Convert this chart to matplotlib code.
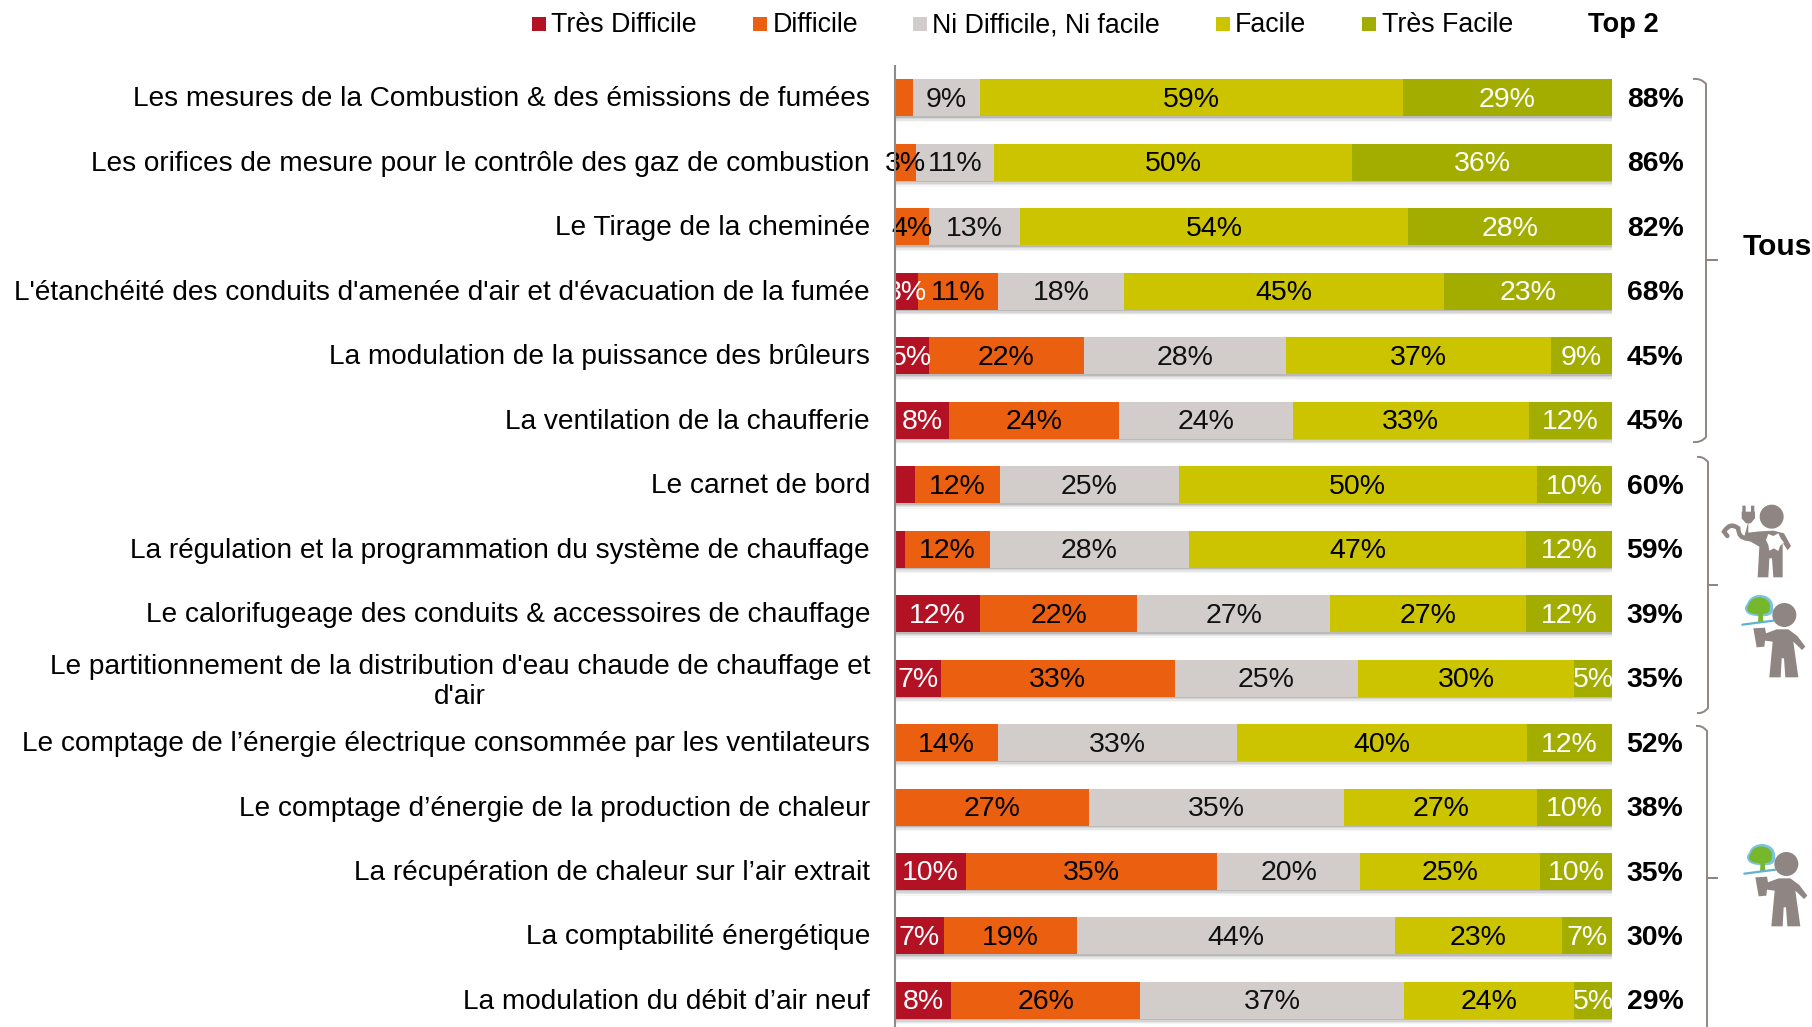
import numpy as np
import matplotlib
matplotlib.use('Agg')
import matplotlib.pyplot as plt
import matplotlib.patheffects as pe
from matplotlib.patches import Circle, Ellipse, PathPatch, Polygon, Rectangle
from matplotlib.path import Path
from matplotlib.transforms import ScaledTranslation

plt.rcParams['font.family'] = ['Liberation Sans', 'DejaVu Sans']

W, H = 1812, 1027

# --- data ---
categories = [
    "Les mesures de la Combustion & des émissions de fumées",
    "Les orifices de mesure pour le contrôle des gaz de combustion",
    "Le Tirage de la cheminée",
    "L'étanchéité des conduits d'amenée d'air et d'évacuation de la fumée",
    "La modulation de la puissance des brûleurs",
    "La ventilation de la chaufferie",
    "Le carnet de bord",
    "La régulation et la programmation du système de chauffage",
    "Le calorifugeage des conduits & accessoires de chauffage",
    "Le partitionnement de la distribution d'eau chaude de chauffage et\nd'air",
    "Le comptage de l’énergie électrique consommée par les ventilateurs",
    "Le comptage d’énergie de la production de chaleur",
    "La récupération de chaleur sur l’air extrait",
    "La comptabilité énergétique",
    "La modulation du débit d’air neuf",
]
series_names = ["Très Difficile", "Difficile", "Ni Difficile, Ni facile", "Facile", "Très Facile"]
series_colors = ["#B31225", "#EB6010", "#D2CDCA", "#CDC400", "#A2AD00"]
text_colors = ["white", "black", "#111111", "black", "white"]

tres_difficile = [0.1, 0.1, 0.1, 3.2, 4.7, 7.5, 2.8, 1.4, 11.9, 6.4, 0.1, 0.1, 9.9, 6.8, 7.8]
difficile = [2.4, 2.8, 4.6, 11.2, 21.6, 23.7, 11.8, 11.8, 21.9, 32.6, 14.2, 27.0, 35.0, 18.6, 26.4]
ni_ni = [9.4, 10.9, 12.8, 17.5, 28.3, 24.3, 25.0, 27.8, 26.9, 25.6, 33.4, 35.5, 20.0, 44.3, 36.8]
facile = [58.9, 50.0, 54.1, 44.7, 36.9, 32.9, 49.9, 47.0, 27.3, 30.1, 40.4, 27.0, 25.1, 23.3, 23.7]
tres_facile = [29.2, 36.2, 28.4, 23.4, 8.5, 11.6, 10.5, 12.0, 12.0, 5.3, 11.9, 10.4, 10.0, 7.0, 5.3]

labels_td = [None, None, None, "3%", "5%", "8%", None, None, "12%", "7%", None, None, "10%", "7%", "8%"]
labels_d = [None, "3%", "4%", "11%", "22%", "24%", "12%", "12%", "22%", "33%", "14%", "27%", "35%", "19%", "26%"]
labels_n = ["9%", "11%", "13%", "18%", "28%", "24%", "25%", "28%", "27%", "25%", "33%", "35%", "20%", "44%", "37%"]
labels_f = ["59%", "50%", "54%", "45%", "37%", "33%", "50%", "47%", "27%", "30%", "40%", "27%", "25%", "23%", "24%"]
labels_tf = ["29%", "36%", "28%", "23%", "9%", "12%", "10%", "12%", "12%", "5%", "12%", "10%", "10%", "7%", "5%"]

top2 = ["88%", "86%", "82%", "68%", "45%", "45%", "60%", "59%", "39%", "35%", "52%", "38%", "35%", "30%", "29%"]

all_values = [tres_difficile, difficile, ni_ni, facile, tres_facile]
all_labels = [labels_td, labels_d, labels_n, labels_f, labels_tf]

fig = plt.figure(figsize=(W / 100, H / 100), dpi=100)

# --- bars ---
ax_left, ax_right = 895, 1612
pitch = 64.46
y_first = 98.0
ax_top = y_first - pitch / 2
ax_bottom = y_first + pitch * 14.5
ax = fig.add_axes([ax_left / W, 1 - ax_bottom / H, (ax_right - ax_left) / W, (ax_bottom - ax_top) / H])
y = np.arange(len(categories))
left = np.zeros(len(categories))

shadow = [
    pe.SimplePatchShadow(offset=(0.8, -4.0), shadow_rgbFace='#808080', alpha=0.07, rho=1),
    pe.SimplePatchShadow(offset=(0.6, -3.0), shadow_rgbFace='#808080', alpha=0.12, rho=1),
    pe.SimplePatchShadow(offset=(0.4, -2.0), shadow_rgbFace='#808080', alpha=0.18, rho=1),
    pe.SimplePatchShadow(offset=(0.2, -1.0), shadow_rgbFace='#707070', alpha=0.25, rho=1),
    pe.Normal(),
]

for vals, labs, col, tcol in zip(all_values, all_labels, series_colors, text_colors):
    vals = np.array(vals)
    bars = ax.barh(y, vals, left=left, height=37 / pitch, color=col, linewidth=0)
    for b in bars:
        b.set_path_effects(shadow)
    for i, lab in enumerate(labs):
        if lab is not None:
            ax.text(left[i] + vals[i] / 2, i + 0.03, lab, ha='center', va='center', color=tcol,
                    fontsize=20.5, zorder=5, clip_on=False)
    left = left + vals

ax.set_xlim(0, 100)
ax.set_ylim(14.5, -0.5)
ax.set_xticks([])
ax.set_yticks(y)
ax.set_yticklabels(categories, fontsize=20.15, linespacing=1.2, multialignment='center')
ax.tick_params(axis='y', length=0, pad=18)
# labels sit a little above the bar centres
up = ScaledTranslation(0, 1.5 / 100, fig.dpi_scale_trans)
for lab in ax.get_yticklabels():
    lab.set_transform(lab.get_transform() + up)
for s in ['top', 'right', 'bottom']:
    ax.spines[s].set_visible(False)
ax.spines['left'].set_color('#8C8C8C')
ax.spines['left'].set_linewidth(1.5)
ax.spines['left'].set_zorder(6)
ax.patch.set_alpha(0)

# --- overlay in pixel coordinates for legend, brackets and icons ---
ov = fig.add_axes([0, 0, 1, 1], zorder=10)
ov.set_xlim(0, W)
ov.set_ylim(H, 0)
ov.axis('off')
ov.patch.set_alpha(0)

legend_sq = [532, 753, 913, 1216, 1362]
legend_txt = [551, 773, 932, 1235, 1382]
for name, col, sx, tx in zip(series_names, series_colors, legend_sq, legend_txt):
    ov.add_patch(Rectangle((sx, 17), 14, 14, color=col, lw=0))
    ov.text(tx, 25.5, name, ha='left', va='center', fontsize=19.3, color='black')
ov.text(1623, 25.5, "Top 2", ha='center', va='center', fontsize=19.6, fontweight='bold')

for i, val in enumerate(top2):
    ov.text(1655, y_first + 2 + i * pitch, val, ha='center', va='center', fontsize=20.4, fontweight='bold')

ov.text(1743, 247, "Tous", ha='left', va='center', fontsize=21.5, fontweight='bold')

BR = '#8F8582'


def bracket(x0, x1, xt, top, mid, bot):
    r = 5
    verts = [(x0, top), (x1 - r, top - 1), (x1, top + r), (x1, mid - r), (x1, mid), (xt, mid),
             (x1, mid), (x1, mid + r), (x1, bot - r), (x1 - r, bot + 1), (x0, bot)]
    codes = [Path.MOVETO, Path.CURVE3, Path.CURVE3, Path.LINETO, Path.LINETO, Path.LINETO,
             Path.LINETO, Path.LINETO, Path.LINETO, Path.CURVE3, Path.CURVE3]
    ov.add_patch(PathPatch(Path(verts, codes), fc='none', ec=BR, lw=1.4))


bracket(1693, 1706, 1718, 79, 260, 442)
bracket(1697, 1708, 1718, 457, 585, 713)
bracket(1696, 1707, 1718, 726, 878, 1050)

GREY = '#8F8582'


def zx(ox, pts):
    return [(ox[0] + px / 3, ox[1] + py / 3) for px, py in pts]


def plug_man(ox):
    c = zx(ox, [(185, 80)])[0]
    ov.add_patch(Circle(c, 12, color=GREY, lw=0))
    body = [(115, 95), (115, 128), (150, 124), (190, 122), (222, 130), (243, 168), (233, 181), (218, 158),
            (218, 262), (190, 262), (186, 205), (178, 205), (175, 262), (143, 262), (148, 170), (122, 155), (100, 150)]
    ov.add_patch(Polygon(zx(ox, body), closed=True, color=GREY, lw=0))
    plug = [(95, 65), (97, 65), (97, 47), (107, 47), (107, 65), (123, 65), (123, 47), (133, 47), (133, 65),
            (135, 65), (135, 85), (122, 100), (108, 100), (95, 85)]
    ov.add_patch(Polygon(zx(ox, plug), closed=True, color=GREY, lw=0))
    wire = zx(ox, [(112, 145), (85, 145), (85, 115), (60, 95), (42, 125), (52, 138)])
    ov.add_patch(PathPatch(Path(wire, [Path.MOVETO, Path.CURVE3, Path.CURVE3, Path.CURVE3, Path.CURVE3, Path.LINETO]),
                           fc='none', ec=GREY, lw=3.2, capstyle='round'))
    star = zx(ox, [(175, 132), (190, 138), (205, 130), (212, 145), (222, 158), (210, 168), (205, 183),
                   (192, 175), (178, 182), (175, 165), (168, 150)])
    ov.add_patch(Polygon(star, closed=True, color='white', lw=0))


def tree_man(ox):
    c = zx(ox, [(223, 75)])[0]
    ov.add_patch(Circle(c, 12, color=GREY, lw=0))
    body = [(130, 115), (165, 113), (168, 130), (200, 118), (235, 118), (262, 138), (286, 170), (276, 180), (250, 155),
            (265, 262), (226, 262), (222, 205), (215, 205), (212, 262), (178, 262), (188, 155), (165, 152),
            (163, 170), (140, 172)]
    ov.add_patch(Polygon(zx(ox, body), closed=True, color=GREY, lw=0))
    tray = zx(ox, [(97, 104), (190, 92)])
    ov.plot(*zip(*tray), color='#5FB3D0', lw=1.6, solid_capstyle='round')
    for cx, cy, rx, ry in [(150, 47, 34, 27), (135, 55, 25, 17), (168, 58, 17, 15)]:
        p = zx(ox, [(cx, cy)])[0]
        ov.add_patch(Ellipse(p, 2 * (rx + 5) / 3, 2 * (ry + 5) / 3, color='#7CC3DC', lw=0))
    for cx, cy, rx, ry in [(148, 48, 32, 26), (133, 55, 22, 16), (165, 58, 14, 13)]:
        p = zx(ox, [(cx, cy)])[0]
        ov.add_patch(Ellipse(p, 2 * rx / 3, 2 * ry / 3, color='#77B72C', lw=0))
    ov.add_patch(Polygon(zx(ox, [(146, 65), (158, 65), (160, 97), (144, 97)]), closed=True, color='#77B72C', lw=0))


plug_man((1710, 490))
tree_man((1710, 590))
tree_man((1712, 839))

fig.savefig('out.png', dpi=100, facecolor='white')
